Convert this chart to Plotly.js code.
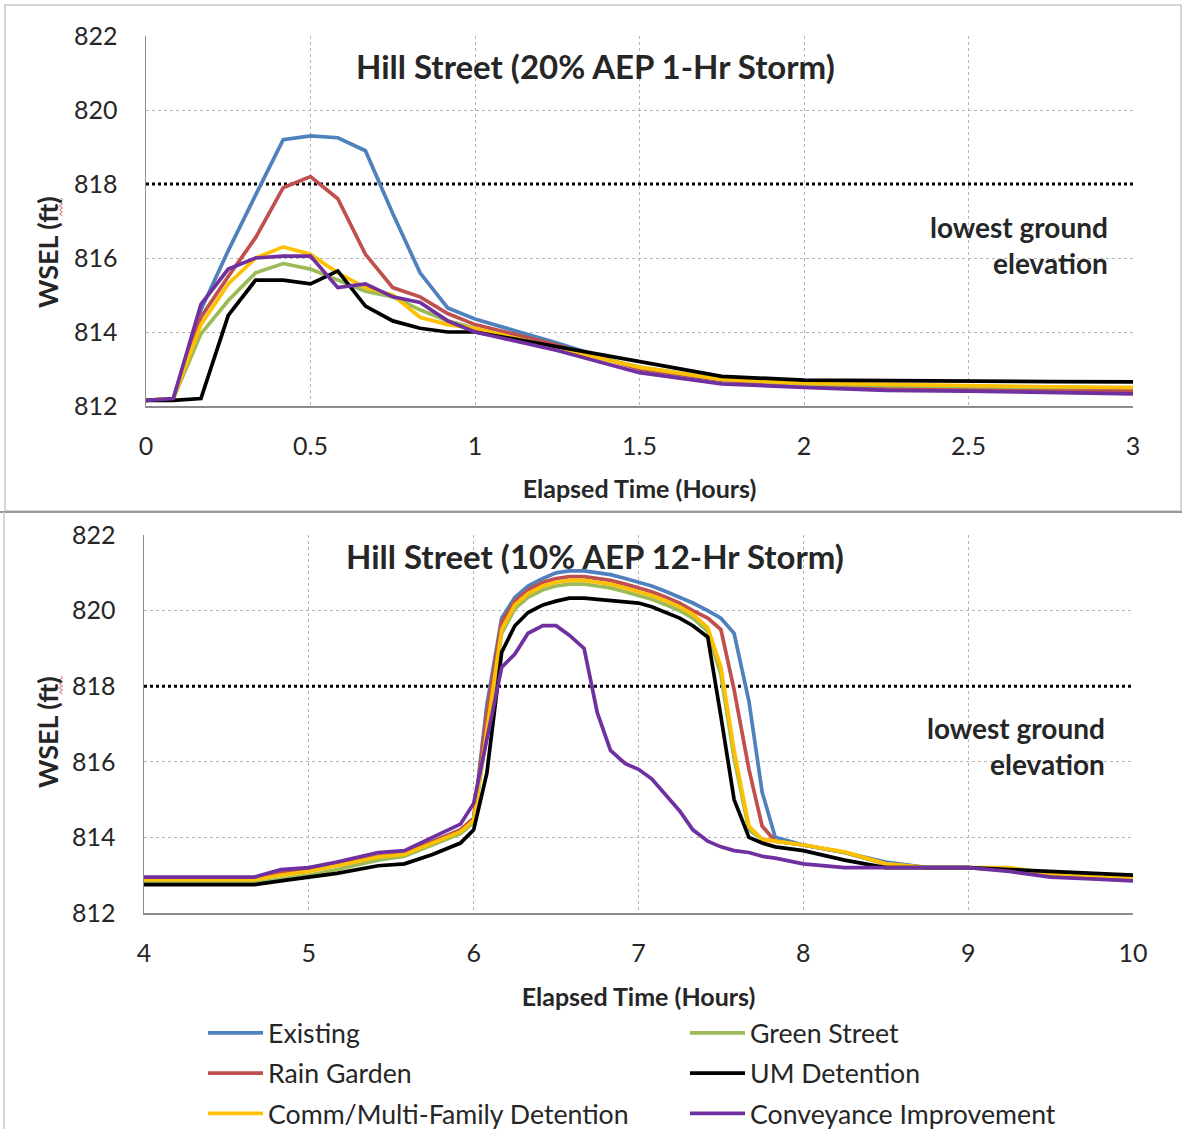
<!DOCTYPE html>
<html>
<head>
<meta charset="utf-8">
<script src="https://cdn.plot.ly/plotly-3.0.1.min.js"></script>
<style>html,body{margin:0;padding:0;background:#fff;overflow:hidden;}#chart{width:1182px;height:1129px;}</style>
</head>
<body>
<div id="chart"></div>
<script>
// ---------- DATA ----------
const seriesNames = ["Existing", "Rain Garden", "Green Street", "Comm/Multi-Family Detention", "UM Detention", "Conveyance Improvement"];

// Top chart: Hill Street (20% AEP 1-Hr Storm)
const tTop = [0, 0.083, 0.167, 0.25, 0.333, 0.417, 0.5, 0.583, 0.667, 0.75, 0.833, 0.917, 1.0, 1.25, 1.5, 1.75, 2.0, 2.25, 2.5, 2.75, 3.0];
const topExisting   = [812.15, 812.2, 814.6, 816.2, 817.7, 819.2, 819.3, 819.25, 818.9, 817.2, 815.6, 814.65, 814.35, 813.7, 813.0, 812.7, 812.6, 812.5, 812.48, 812.45, 812.45];
const topRainGarden = [812.15, 812.2, 814.4, 815.5, 816.55, 817.9, 818.2, 817.6, 816.1, 815.2, 814.95, 814.5, 814.2, 813.65, 813.0, 812.7, 812.55, 812.5, 812.45, 812.42, 812.42];
const topGreenStreet= [812.15, 812.2, 813.95, 814.85, 815.6, 815.85, 815.7, 815.4, 815.1, 814.95, 814.6, 814.3, 814.1, 813.55, 813.05, 812.72, 812.6, 812.55, 812.52, 812.5, 812.5];
const topCommMulti  = [812.15, 812.2, 814.2, 815.3, 816.0, 816.3, 816.1, 815.6, 815.2, 815.0, 814.4, 814.2, 814.1, 813.55, 813.05, 812.72, 812.62, 812.58, 812.55, 812.52, 812.5];
const topUMDet      = [812.15, 812.15, 812.2, 814.45, 815.4, 815.4, 815.3, 815.65, 814.7, 814.3, 814.1, 814.0, 814.0, 813.6, 813.2, 812.8, 812.7, 812.68, 812.67, 812.66, 812.65];
const topConveyance = [812.15, 812.2, 814.75, 815.7, 816.0, 816.05, 816.05, 815.2, 815.3, 814.95, 814.8, 814.3, 814.0, 813.5, 812.9, 812.6, 812.5, 812.42, 812.4, 812.36, 812.33];

// Bottom chart: Hill Street (10% AEP 12-Hr Storm)
const tBot = [4, 4.67, 4.83, 5.0, 5.17, 5.42, 5.58, 5.75, 5.92, 6.0, 6.08, 6.17, 6.25, 6.33, 6.42, 6.5, 6.58, 6.67, 6.75, 6.83, 6.92, 7.0, 7.08, 7.17, 7.25, 7.33, 7.42, 7.5, 7.58, 7.67, 7.75, 7.83, 8.0, 8.25, 8.5, 8.75, 9.0, 9.25, 9.5, 9.75, 10];
const botExisting   = [812.92, 812.92, 813.05, 813.15, 813.28, 813.5, 813.58, 813.9, 814.2, 814.5, 817.5, 819.8, 820.35, 820.65, 820.85, 821.0, 821.05, 821.05, 821.0, 820.95, 820.85, 820.75, 820.65, 820.5, 820.35, 820.2, 820.0, 819.8, 819.4, 817.6, 815.2, 814.0, 813.8, 813.6, 813.35, 813.2, 813.2, 813.15, 813.0, 812.95, 812.9];
const botRainGarden = [812.92, 812.92, 813.05, 813.15, 813.28, 813.5, 813.58, 813.9, 814.2, 814.5, 817.3, 819.7, 820.25, 820.55, 820.75, 820.85, 820.9, 820.9, 820.85, 820.8, 820.7, 820.6, 820.5, 820.35, 820.2, 820.0, 819.8, 819.5, 817.9, 815.8, 814.3, 813.9, 813.8, 813.6, 813.3, 813.2, 813.2, 813.15, 813.0, 812.95, 812.9];
const botGreenStreet= [812.8, 812.8, 812.9, 813.0, 813.15, 813.4, 813.5, 813.8, 814.1, 814.4, 816.8, 819.4, 820.05, 820.35, 820.55, 820.65, 820.7, 820.7, 820.65, 820.6, 820.5, 820.4, 820.3, 820.15, 820.0, 819.8, 819.45, 818.3, 816.1, 814.2, 813.95, 813.9, 813.8, 813.6, 813.3, 813.2, 813.2, 813.15, 813.05, 813.0, 812.95];
const botCommMulti  = [812.88, 812.88, 813.0, 813.1, 813.25, 813.48, 813.55, 813.85, 814.15, 814.45, 816.9, 819.5, 820.15, 820.45, 820.65, 820.75, 820.8, 820.8, 820.75, 820.7, 820.6, 820.5, 820.4, 820.25, 820.1, 819.9, 819.55, 818.5, 816.3, 814.3, 813.95, 813.9, 813.8, 813.62, 813.3, 813.2, 813.2, 813.2, 813.05, 813.0, 812.95];
const botUMDet      = [812.75, 812.75, 812.85, 812.95, 813.05, 813.25, 813.3, 813.55, 813.85, 814.2, 815.7, 818.9, 819.6, 819.95, 820.15, 820.25, 820.33, 820.33, 820.3, 820.28, 820.25, 820.2, 820.1, 819.95, 819.8, 819.6, 819.3, 817.2, 815.0, 814.0, 813.85, 813.75, 813.65, 813.4, 813.2, 813.2, 813.2, 813.15, 813.1, 813.05, 813.0];
const botConveyance = [812.95, 812.95, 813.15, 813.2, 813.35, 813.6, 813.65, 814.0, 814.35, 814.9, 816.6, 818.5, 818.85, 819.4, 819.6, 819.6, 819.35, 819.0, 817.3, 816.3, 815.95, 815.8, 815.55, 815.1, 814.7, 814.2, 813.9, 813.75, 813.65, 813.6, 813.5, 813.45, 813.3, 813.2, 813.2, 813.2, 813.2, 813.1, 812.95, 812.9, 812.85];

const groundElevation = 818;
const topXTicks = [0, 0.5, 1, 1.5, 2, 2.5, 3];
const topXTickText = ["0", "0.5", "1", "1.5", "2", "2.5", "3"];
const botXTicks = [4, 5, 6, 7, 8, 9, 10];
const yTicks = [812, 814, 816, 818, 820, 822];

// ---------- STYLE ----------
const colors = ["#4F81BD", "#C0504D", "#9BBB59", "#FFC000", "#000000", "#7030A0"];
const legendOf = ["legend", "legend", "legend2", "legend", "legend2", "legend2"];
const FONT = "Lato, 'Open Sans', sans-serif";
const TXT = "#262626";
const LW = 3.7;

const W = 1182, H = 1129;
const px = v => v / W;
const py = v => 1 - v / H;

const topSeries = [topExisting, topRainGarden, topGreenStreet, topCommMulti, topUMDet, topConveyance];
const botSeries = [botExisting, botRainGarden, botGreenStreet, botCommMulti, botUMDet, botConveyance];

const traces = [];
traces.push({x: [0, 3], y: [groundElevation, groundElevation], xaxis: "x", yaxis: "y", mode: "lines",
  line: {color: "#000", width: 3, dash: "dot"}, showlegend: false, hoverinfo: "skip"});
traces.push({x: [4, 10], y: [groundElevation, groundElevation], xaxis: "x2", yaxis: "y2", mode: "lines",
  line: {color: "#000", width: 3, dash: "dot"}, showlegend: false, hoverinfo: "skip"});

seriesNames.forEach((n, i) => {
  traces.push({x: tTop, y: topSeries[i], xaxis: "x", yaxis: "y", mode: "lines", name: n,
    line: {color: colors[i], width: LW}, showlegend: false});
});
seriesNames.forEach((n, i) => {
  traces.push({x: tBot, y: botSeries[i], xaxis: "x2", yaxis: "y2", mode: "lines", name: n,
    legend: legendOf[i], legendgroup: "g" + i,
    line: {color: colors[i], width: LW}, showlegend: true});
});

const axisCommon = {
  showgrid: true, gridcolor: "#b5b5b5", griddash: "dot", gridwidth: 1,
  showline: true, linecolor: "#8c8c8c", linewidth: 1.5,
  ticks: "", zeroline: false, tickfont: {family: FONT, size: 25, color: TXT},
  fixedrange: true
};

// small red wavy underline (spell-check mark) next to "(ft)"
function squiggle(xc, yTop, yBot) {
  let d = "M" + px(xc) + "," + py(yTop);
  let k = 0;
  for (let y = yTop + 2; y <= yBot; y += 2) {
    k++;
    d += " L" + px(xc + (k % 2 ? 1.5 : -1.5)) + "," + py(y);
  }
  return {type: "path", xref: "paper", yref: "paper", path: d, line: {color: "#e06a6a", width: 1}};
}

const layout = {
  width: W, height: H,
  margin: {l: 0, r: 0, t: 0, b: 0, autoexpand: false},
  paper_bgcolor: "#fff", plot_bgcolor: "#fff",
  font: {family: FONT, color: TXT},
  xaxis: Object.assign({}, axisCommon, {domain: [px(146), px(1133)], range: [0, 3], tickvals: topXTicks, ticktext: topXTickText,
    anchor: "y", ticklabelstandoff: 17, automargin: false,
    title: {text: "<b>Elapsed Time (Hours)</b>", font: {family: FONT, size: 25, color: TXT}, standoff: 22}}),
  yaxis: Object.assign({}, axisCommon, {domain: [py(406), py(36)], range: [812, 822], tickvals: yTicks, anchor: "x",
    ticklabelstandoff: 22, automargin: false}),
  xaxis2: Object.assign({}, axisCommon, {domain: [px(144), px(1133)], range: [4, 10], tickvals: botXTicks, anchor: "y2",
    ticklabelstandoff: 17, automargin: false,
    title: {text: "<b>Elapsed Time (Hours)</b>", font: {family: FONT, size: 25, color: TXT}, standoff: 23}}),
  yaxis2: Object.assign({}, axisCommon, {domain: [py(913), py(535)], range: [812, 822], tickvals: yTicks, anchor: "x2",
    ticklabelstandoff: 22, automargin: false}),
  legend: {x: px(203), y: py(1009), xanchor: "left", yanchor: "top", orientation: "v",
    font: {family: FONT, size: 26.7, color: TXT}, tracegroupgap: 2.5, bgcolor: "rgba(0,0,0,0)", itemwidth: 55},
  legend2: {x: px(685), y: py(1009), xanchor: "left", yanchor: "top", orientation: "v",
    font: {family: FONT, size: 26.7, color: TXT}, tracegroupgap: 2.5, bgcolor: "rgba(0,0,0,0)", itemwidth: 55},
  annotations: [
    {xref: "paper", yref: "paper", x: px(595), y: py(66), text: "<b>Hill Street (20% AEP 1-Hr Storm)</b>",
      showarrow: false, font: {family: FONT, size: 33, color: TXT}, xanchor: "center", yanchor: "middle"},
    {xref: "paper", yref: "paper", x: px(595), y: py(556), text: "<b>Hill Street (10% AEP 12-Hr Storm)</b>",
      showarrow: false, font: {family: FONT, size: 33, color: TXT}, xanchor: "center", yanchor: "middle"},
    {xref: "paper", yref: "paper", x: px(1110), y: py(245), text: "<b>lowest ground<br>elevation</b>", align: "right",
      showarrow: false, font: {family: FONT, size: 28, color: TXT}, xanchor: "right", yanchor: "middle"},
    {xref: "paper", yref: "paper", x: px(1107), y: py(746), text: "<b>lowest ground<br>elevation</b>", align: "right",
      showarrow: false, font: {family: FONT, size: 28, color: TXT}, xanchor: "right", yanchor: "middle"},
    {xref: "paper", yref: "paper", x: px(47), y: py(252), text: "<b>WSEL (ft)</b>", textangle: -90,
      showarrow: false, font: {family: FONT, size: 27, color: TXT}, xanchor: "center", yanchor: "middle"},
    {xref: "paper", yref: "paper", x: px(47), y: py(732), text: "<b>WSEL (ft)</b>", textangle: -90,
      showarrow: false, font: {family: FONT, size: 27, color: TXT}, xanchor: "center", yanchor: "middle"}
  ],
  shapes: [
    {type: "rect", xref: "paper", yref: "paper", x0: px(5), x1: px(1181), y0: py(511), y1: py(5),
      line: {color: "#c8c8c8", width: 1.5}},
    {type: "line", xref: "paper", yref: "paper", x0: 0, x1: 1, y0: py(512), y1: py(512),
      line: {color: "#9a9a9a", width: 2}},
    {type: "line", xref: "paper", yref: "paper", x0: px(4), x1: px(4), y0: py(512), y1: 0,
      line: {color: "#c8c8c8", width: 1.5}},
    squiggle(61, 198, 216),
    squiggle(61, 676, 694)
  ]
};

Plotly.newPlot("chart", traces, layout, {displayModeBar: false, staticPlot: true});
</script>
</body>
</html>
